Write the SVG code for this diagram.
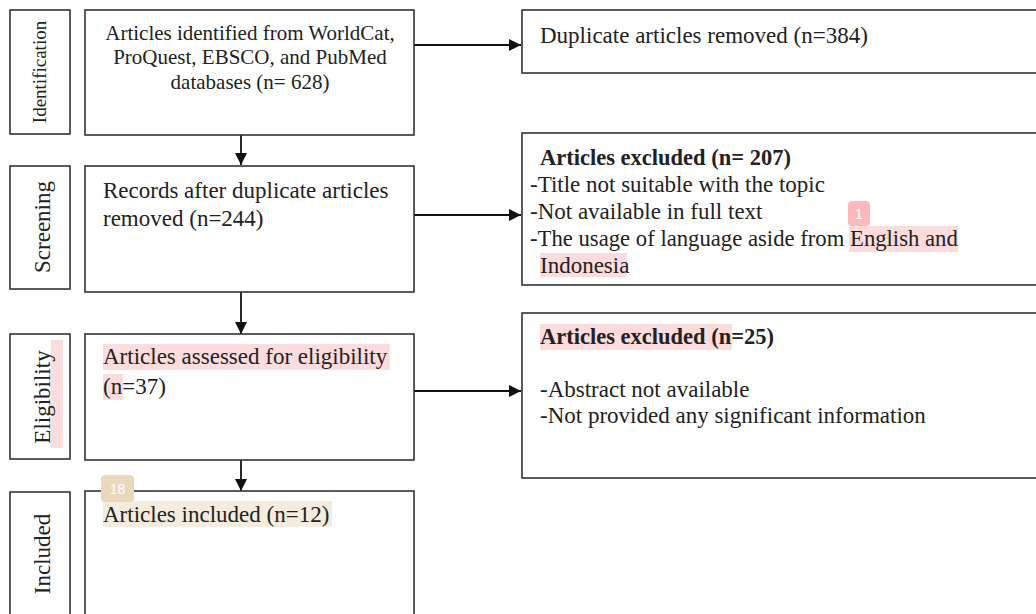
<svg xmlns="http://www.w3.org/2000/svg" width="1036" height="614" viewBox="0 0 1036 614">
<style>
.box{fill:#fff;stroke:#333;stroke-width:1.6}
.t{font-family:"Liberation Serif","Times New Roman",serif;font-size:23px;fill:#222}
.b{font-weight:bold;font-size:22.5px}
.s{font-family:"Liberation Serif","Times New Roman",serif;font-size:23px;fill:#222}
.c{stroke:#111;stroke-width:1.8;fill:none}
.hl{fill:#fcdcdc}
.hb{fill:#f4ecdf}
.badge{font-family:"Liberation Sans",Arial,sans-serif;font-size:14px;fill:#fff}
</style>
<defs>
<marker id="ah" viewBox="0 0 10 10" refX="10" refY="5" markerWidth="12" markerHeight="12" markerUnits="userSpaceOnUse" orient="auto">
<path d="M0,0 L10,5 L0,10 z" fill="#111"/>
</marker>
</defs>
<g id="connectors">
<line class="c" x1="414" y1="45" x2="521" y2="45" marker-end="url(#ah)"/>
<line class="c" x1="241" y1="135" x2="241" y2="165" marker-end="url(#ah)"/>
<line class="c" x1="414" y1="215" x2="521" y2="215" marker-end="url(#ah)"/>
<line class="c" x1="241" y1="292" x2="241" y2="334" marker-end="url(#ah)"/>
<line class="c" x1="414" y1="391" x2="521" y2="391" marker-end="url(#ah)"/>
<line class="c" x1="241" y1="460" x2="241" y2="491" marker-end="url(#ah)"/>
</g>
<g id="label-identification">
<rect class="box" x="10" y="10" width="60" height="124"/>
<text class="s" style="font-size:19px" transform="translate(46,72) rotate(-90)" text-anchor="middle">Identification</text>
</g>
<g id="label-screening">
<rect class="box" x="10" y="166" width="60" height="123"/>
<text class="s" transform="translate(50,227) rotate(-90)" text-anchor="middle">Screening</text>
</g>
<g id="label-eligibility">
<rect class="box" x="10" y="334" width="60" height="125"/>
<rect class="hl" x="51" y="340" width="12" height="108"/>
<text class="s" transform="translate(50,397) rotate(-90)" text-anchor="middle">Eligibility</text>
</g>
<g id="label-included">
<rect class="box" x="10" y="492" width="60" height="130"/>
<text class="s" transform="translate(50,554) rotate(-90)" text-anchor="middle">Included</text>
</g>
<g id="identified">
<rect class="box" x="85" y="10" width="329" height="125"/>
<text class="t" style="font-size:21px" x="250" text-anchor="middle"><tspan x="250" y="40">Articles identified from WorldCat,</tspan><tspan x="250" y="64">ProQuest, EBSCO, and PubMed</tspan><tspan x="250" y="89">databases (n= 628)</tspan></text>
</g>
<g id="duplicates">
<rect class="box" x="522" y="10" width="530" height="63"/>
<text class="t" x="540" y="43">Duplicate articles removed (n=384)</text>
</g>
<g id="records">
<rect class="box" x="85" y="166" width="329" height="126"/>
<text class="t"><tspan x="103" y="198">Records after duplicate articles</tspan><tspan x="103" y="226">removed (n=244)</tspan></text>
</g>
<g id="excluded1">
<rect class="box" x="522" y="133" width="530" height="152"/>
<rect class="hl" x="849" y="226" width="109" height="26"/>
<rect class="hl" x="540" y="253" width="87" height="24"/>
<rect x="848" y="201" width="22" height="25" rx="4" fill="#fbb9b9"/>
<text class="badge" x="859" y="219" text-anchor="middle">1</text>
<text class="t b" x="540" y="165">Articles excluded (n= 207)</text>
<text class="t"><tspan x="530" y="192">-Title not suitable with the topic</tspan><tspan x="530" y="219">-Not available in full text</tspan><tspan x="530" y="246" style="font-size:22.7px">-The usage of language aside from English and</tspan><tspan x="540" y="273">Indonesia</tspan></text>
</g>
<g id="assessed">
<rect class="box" x="85" y="334" width="329" height="126"/>
<rect class="hl" x="103" y="344" width="287" height="26"/>
<rect class="hl" x="103" y="374" width="20" height="26"/>
<text class="t"><tspan x="103" y="364">Articles assessed for eligibility</tspan><tspan x="103" y="394">(n=37)</tspan></text>
</g>
<g id="excluded2">
<rect class="box" x="522" y="313" width="530" height="165"/>
<rect class="hl" x="540" y="324" width="192" height="26"/>
<text class="t b" x="540" y="344">Articles excluded (n=25)</text>
<text class="t"><tspan x="540" y="397">-Abstract not available</tspan><tspan x="540" y="423">-Not provided any significant information</tspan></text>
</g>
<g id="included">
<rect class="box" x="85" y="491" width="329" height="130"/>
<rect class="hb" x="103" y="501" width="229" height="26"/>
<rect x="101" y="475" width="33" height="27" rx="4" fill="#ead8bd"/>
<text class="badge" x="117.5" y="494" text-anchor="middle">18</text>
<text class="t" x="103" y="522">Articles included (n=12)</text>
</g>
</svg>
